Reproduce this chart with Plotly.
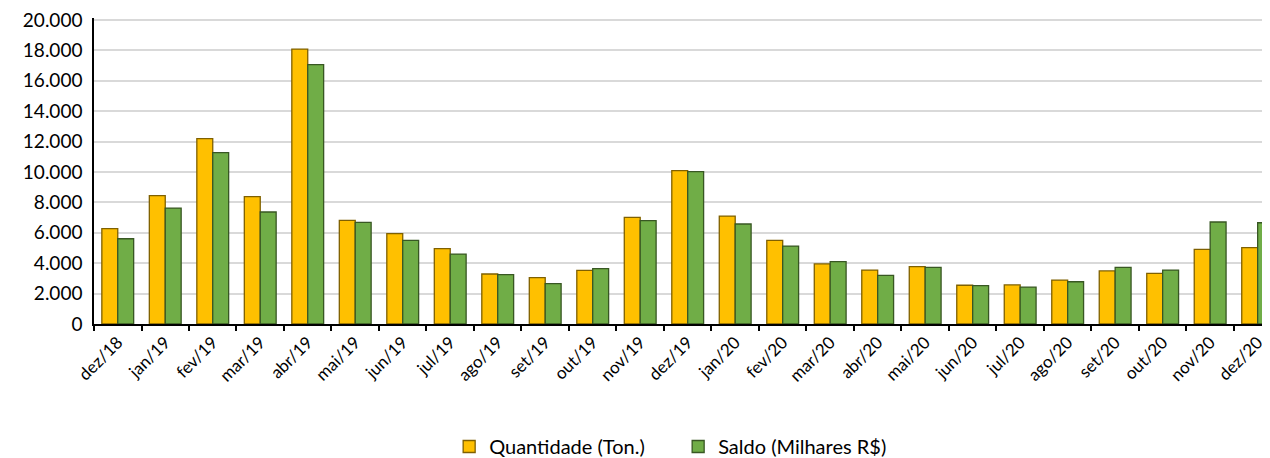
import plotly.graph_objects as go

categories = ["dez/18", "jan/19", "fev/19", "mar/19", "abr/19", "mai/19", "jun/19",
              "jul/19", "ago/19", "set/19", "out/19", "nov/19", "dez/19", "jan/20",
              "fev/20", "mar/20", "abr/20", "mai/20", "jun/20", "jul/20", "ago/20",
              "set/20", "out/20", "nov/20", "dez/20"]
quantidade = [6270, 8440, 12200, 8380, 18090, 6820, 5940,
              4960, 3290, 3050, 3530, 7020, 10090, 7100,
              5500, 3950, 3550, 3770, 2550, 2570, 2890,
              3490, 3330, 4910, 5020]
saldo = [5610, 7630, 11270, 7370, 17060, 6690, 5500,
         4600, 3250, 2650, 3640, 6800, 10020, 6580,
         5130, 4100, 3200, 3730, 2530, 2430, 2780,
         3730, 3550, 6710, 6660]
y_ticks = [0, 2000, 4000, 6000, 8000, 10000, 12000, 14000, 16000, 18000, 20000]
y_tick_text = ["0", "2.000", "4.000", "6.000", "8.000", "10.000", "12.000",
               "14.000", "16.000", "18.000", "20.000"]

FONT = "Lato, 'Open Sans', sans-serif"

fig = go.Figure()
fig.add_trace(go.Bar(
    x=categories, y=quantidade, name="Quantidade (Ton.)",
    marker=dict(color="#FFC000", line=dict(color="#7F6000", width=1.3)),
))
fig.add_trace(go.Bar(
    x=categories, y=saldo, name="Saldo (Milhares R$)",
    marker=dict(color="#70AD47", line=dict(color="#385723", width=1.3)),
))

# page body has an 8px default margin, so the figure is 8px smaller than the window
fig.update_layout(
    width=1262, height=450,
    margin=dict(l=86, r=0, t=10, b=134, autoexpand=False),
    paper_bgcolor="white", plot_bgcolor="white",
    barmode="group", bargap=0.33, bargroupgap=0,
    font=dict(family=FONT, color="#000000", size=18),
    showlegend=True,
    legend=dict(orientation="h", x=0.302, xanchor="left", y=-0.3366, yanchor="top",
                font=dict(size=20, family=FONT), itemwidth=30, traceorder="normal",
                entrywidth=184, entrywidthmode="pixels"),
    xaxis=dict(
        type="category", range=[-0.5, 24.26], automargin=False,
        tickangle=-45, tickfont=dict(size=17, family=FONT),
        showline=True, linecolor="#000000", linewidth=1.5,
        ticks="outside", ticklen=5, tickcolor="#000000", tickwidth=1.5,
        tickson="boundaries", showgrid=False, ticklabeloverflow="allow",
    ),
    yaxis=dict(
        range=[0, 20132], tickvals=y_ticks, ticktext=y_tick_text, automargin=False,
        tickfont=dict(size=19, family=FONT), ticklabeloverflow="allow",
        showline=True, linecolor="#000000", linewidth=1.5,
        showgrid=True, gridcolor="#D9D9D9", gridwidth=1.5,
        zeroline=False, ticks="", ticklabelstandoff=6,
    ),
)

fig.write_html("out.html")
